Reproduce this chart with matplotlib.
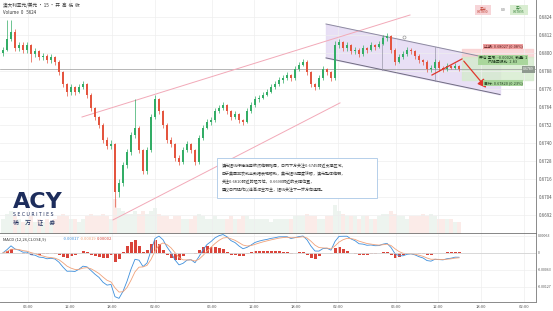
import numpy as np
import pandas as pd
import matplotlib
matplotlib.use("Agg")
import matplotlib.pyplot as plt
from matplotlib.patches import Rectangle

plt.rcParams['font.family'] = ['Noto Sans CJK SC', 'DejaVu Sans']

# -----------------------------
# Data (prices in pips above base)
# -----------------------------
base = 0.6690
first_open = 110

closes = [112, 119, 124, 113, 115, 112, 115, 109, 111, 107,
          108, 105, 107, 104, 97, 89, 84, 87, 84, 87,
          89, 82, 73, 67, 62, 52, 48, 49, 17, 23,
          35, 44, 55, 60, 45, 31, 45, 67, 79, 71,
          62, 52, 49, 40, 37, 45, 49, 45, 37, 53,
          60, 64, 65, 71, 73, 75, 71, 67, 69, 65,
          64, 71, 75, 79, 80, 82, 84, 87, 89, 92,
          93, 95, 93, 99, 102, 104, 97, 89, 87, 93,
          99, 97, 93, 115, 117, 113, 115, 111, 112, 109,
          113, 112, 115, 114, 116, 120, 121, 112, 104, 107,
          109, 112, 111, 108, 105, 104, 99, 100, 104, 100,
          99, 101, 100, 101, 99]

highs = [114, 132, 132, 126, 117, 117, 117, 116, 113, 112,
         110, 109, 109, 108, 105, 98, 90, 89, 88, 89,
         91, 90, 83, 74, 68, 63, 54, 52, 50, 26,
         37, 46, 57, 79, 61, 46, 47, 69, 82, 80,
         72, 63, 54, 50, 42, 47, 51, 50, 46, 55,
         62, 66, 67, 73, 75, 77, 76, 72, 71, 70,
         66, 73, 77, 81, 82, 84, 86, 89, 91, 94,
         95, 97, 96, 101, 104, 106, 105, 98, 90, 95,
         101, 100, 98, 118, 119, 118, 117, 116, 114, 113,
         115, 114, 117, 116, 118, 122, 123, 122, 113, 109,
         111, 114, 113, 112, 109, 106, 105, 102, 106, 105,
         101, 103, 102, 103, 102]

lows = [108, 111, 118, 111, 111, 110, 110, 104, 107, 105,
        105, 103, 103, 102, 95, 87, 81, 82, 82, 83,
        86, 80, 71, 65, 60, 50, 46, 46, 7, 14,
        21, 33, 42, 53, 43, 29, 29, 44, 66, 69,
        60, 50, 47, 38, 35, 36, 44, 43, 35, 36,
        52, 59, 62, 64, 70, 72, 69, 65, 66, 63,
        62, 63, 70, 74, 77, 79, 81, 83, 86, 88,
        90, 92, 91, 92, 98, 101, 95, 87, 85, 86,
        92, 95, 91, 92, 113, 111, 111, 109, 109, 107,
        108, 110, 111, 112, 113, 115, 118, 110, 102, 103,
        106, 108, 109, 106, 103, 102, 97, 97, 99, 98,
        97, 98, 99, 99, 98]

volumes = [5, 7, 8, 6, 5, 4, 5, 6, 4, 5,
           4, 5, 4, 5, 6, 7, 6, 5, 5, 4,
           5, 6, 7, 6, 6, 7, 6, 5, 12, 9,
           8, 7, 7, 8, 7, 8, 7, 8, 9, 7,
           6, 6, 5, 6, 6, 5, 5, 5, 6, 7,
           6, 5, 5, 6, 5, 5, 5, 6, 5, 5,
           6, 6, 5, 5, 5, 5, 5, 4, 5, 5,
           5, 5, 5, 6, 6, 6, 7, 6, 6, 5,
           5, 6, 6, 10, 8, 7, 6, 6, 6, 5,
           6, 6, 5, 5, 6, 7, 7, 8, 7, 6,
           6, 5, 6, 6, 6, 7, 6, 7, 6, 5,
           5, 5, 5, 4, 4]

price_ticks = [134, 122, 110, 98, 86, 74, 62, 50, 38, 26, 14, 2]
xtick_pos = [6.25, 16.75, 27.25, 38, 52.25, 62.75, 73.25, 83.75, 98.25, 108.75, 119.5, 130.25]
xtick_labels = ["06:00", "12:00", "18:00", "02:00"] * 3

# drawings (x in bars, y in pips)
pink_upper_x, pink_upper_y = [19.75, 101.75], [67.3, 135.3]
pink_lower_x, pink_lower_y = [27.5, 84.25], [-1.3, 76.7]
channel_x = [80.75, 124.25]
channel_top = [129.3, 105.0]
channel_bot = [106.7, 82.3]
channel_marks = [94.75, 108.0]
handle_x, handle_y = 100.25, 120.7
arrow_x = [107.25, 114.75, 121.25]
arrow_y = [95.3, 106.0, 85.3]
stop_lvl, entry_lvl, target_lvl = 112.7, 107.3, 92.0
tool_x = [114.75, 132.5]

note_lines = [
    "澳元短线行情走势依然偏弱格局，日内下方关注0.6745附近支撑区域，",
    "由于美国非农就业数据表现强劲，美元短线再度转强，澳元整体偏弱，",
    "关注0.6810附近的阻力位，0.6690附近的支撑位置，",
    "建议日内操作以逢高沽空为主，短线关注下一步方向选择。",
]


def to_p(v):
    return base + np.asarray(v, dtype=float) / 10000


df = pd.DataFrame({"close": to_p(closes), "high": to_p(highs), "low": to_p(lows)})
df["open"] = df["close"].shift(1)
df.loc[0, "open"] = to_p(first_open)
df["up"] = df["close"] >= df["open"]
idx = np.arange(len(df))

# MACD (bars here are coarser than the source, spans scaled to match)
ema_fast = df["close"].ewm(span=5, adjust=False).mean()
ema_slow = df["close"].ewm(span=11, adjust=False).mean()
macd = ema_fast - ema_slow
signal = macd.ewm(span=4, adjust=False).mean()
hist = macd - signal

# -----------------------------
# Layout
# -----------------------------
W, H = 553, 311
fig = plt.figure(figsize=(W / 100, H / 100), dpi=100, facecolor="white")
ax = fig.add_axes([0, 1 - 234 / H, 536 / W, 234 / H])
axm = fig.add_axes([0, 1 - 302 / H, 536 / W, 68 / H])
axv = fig.add_axes(ax.get_position(), sharex=ax)
axv.set_zorder(ax.get_zorder() - 1)
ax.patch.set_alpha(0)

xlim = (-0.75, 133.25)
ylim = (to_p(-10.7), to_p(145.3))

# -----------------------------
# Volume
# -----------------------------
vol_colors = np.where(df["up"], "#dfece2", "#f8dcd6")
axv.bar(idx, volumes, width=0.8, color=vol_colors, alpha=0.55)
axv.set_ylim(0, 80)
axv.axis("off")

# -----------------------------
# Candles
# -----------------------------
up_c, dn_c = "#33ad66", "#e4553f"
colors = np.where(df["up"], up_c, dn_c)
ax.vlines(idx, df["low"], df["high"], color=colors, lw=0.5, zorder=3)
body_lo = np.minimum(df["open"], df["close"])
body_h = np.maximum((df["close"] - df["open"]).abs(), 0.00003)
ax.bar(idx, body_h, bottom=body_lo, width=0.6, color=colors, zorder=4)

# last price line
ax.axhline(df["close"].iloc[-1], color="#9a9a9a", lw=0.5, zorder=2)

# trend lines
ax.plot(pink_upper_x, to_p(pink_upper_y), color="#f2a9b8", lw=0.7, zorder=2)
ax.plot(pink_lower_x, to_p(pink_lower_y), color="#f2a9b8", lw=0.7, zorder=2)

# channel
ax.fill_between(channel_x, to_p(channel_bot), to_p(channel_top), color="#e4daf4", alpha=0.85, zorder=1)
ax.plot(channel_x, to_p(channel_top), color="#8d8aa0", lw=0.7, zorder=2)
ax.plot(channel_x, to_p(channel_bot), color="#6f6c80", lw=0.7, zorder=2)
for mx in channel_marks:
    ax.plot([mx, mx], [to_p(np.interp(mx, channel_x, channel_bot)),
                       to_p(np.interp(mx, channel_x, channel_top))],
            color="#9a98aa", lw=0.5, zorder=2)
ax.plot(handle_x, to_p(handle_y), "o", ms=2.2, mfc="white", mec="#999999", mew=0.5, zorder=6)

# position tool
ax.fill_between(tool_x, to_p(entry_lvl), to_p(stop_lvl), color="#f9cfd0", alpha=0.8, zorder=1)
ax.fill_between(tool_x, to_p(target_lvl), to_p(entry_lvl), color="#d5ebcd", alpha=0.8, zorder=1)
mid_x = 125.0
fs_tool = 2.8
ax.text(mid_x, to_p(stop_lvl + 1.6), f"止损: {to_p(stop_lvl):.5f} (0.08%)", fontsize=fs_tool,
        ha="center", va="center", color="#5a1a1a", zorder=7,
        bbox=dict(boxstyle="square,pad=0.25", fc="#ef9f9f", ec="none"))
ax.text(mid_x, to_p(entry_lvl - 2.0), f"开仓 盈亏: -0.00026, 数量: 1\n风险回报比: 2.83", fontsize=fs_tool,
        ha="center", va="center", color="#1f3a1f", zorder=7, linespacing=1.0,
        bbox=dict(boxstyle="square,pad=0.25", fc="#a9d69c", ec="none"))
ax.text(mid_x, to_p(target_lvl - 2.0), f"目标: {to_p(target_lvl):.5f} (0.23%)", fontsize=fs_tool,
        ha="center", va="center", color="#1f3a1f", zorder=7,
        bbox=dict(boxstyle="square,pad=0.25", fc="#a9d69c", ec="none"))
ax.text(131.3, df["close"].iloc[-1], f"{df['close'].iloc[-1]:.4f}", fontsize=2.6,
        ha="center", va="center", color="white", zorder=7,
        bbox=dict(boxstyle="square,pad=0.3", fc="#8f9a8f", ec="none"))

# arrow
ax.plot(arrow_x[:2], to_p(arrow_y[:2]), color="#e0362c", lw=0.9, zorder=6)
ax.annotate("", xy=(arrow_x[2], to_p(arrow_y[2])), xytext=(arrow_x[1], to_p(arrow_y[1])),
            arrowprops=dict(arrowstyle="-|>,head_length=0.5,head_width=0.25", color="#e0362c", lw=0.9),
            zorder=6)

# commentary box
ax.add_patch(Rectangle((217 / 536, 1 - 198 / 234), 160 / 536, 40 / 234, transform=ax.transAxes,
                       fc="white", ec="#a9c8e6", lw=0.6, zorder=8))
for k, line in enumerate(note_lines):
    ax.text(222 / 536, 1 - (166 + 8 * k) / 234, line, transform=ax.transAxes,
            fontsize=2.9, color="#333333", va="center", ha="left", zorder=9)

ax.set_xlim(*xlim)
ax.set_ylim(*ylim)
ax.set_yticks(to_p(price_ticks))
ax.set_yticklabels([f"{v:.4f}" for v in to_p(price_ticks)])
ax.set_xticks(xtick_pos)
ax.tick_params(axis="x", labelbottom=False, length=0)
ax.yaxis.tick_right()
ax.tick_params(axis="y", length=0, pad=2, labelsize=3.2, labelcolor="#555555")
ax.grid(True, color="#eeeeee", lw=0.5)

# -----------------------------
# MACD panel
# -----------------------------
axm.bar(idx, hist, width=0.75, color="#d9443a")
axm.plot(idx, macd, color="#3d8fdc", lw=0.6)
axm.plot(idx, signal, color="#f0a27a", lw=0.6)
lo = min(macd.min(), signal.min(), hist.min()) * 1.08
step = -lo * 17 / 49
axm.set_ylim(lo, step * 1.1)
axm.axhline(0, color="#cfcfcf", lw=0.5)
axm.set_xlim(*xlim)
mt = [step, 0, -step, -2 * step]
axm.set_yticks(mt)
axm.set_yticklabels([f"{v:.5f}" if v != 0 else "0" for v in mt])
axm.yaxis.tick_right()
axm.tick_params(axis="y", length=0, pad=1, labelsize=2.5, labelcolor="#555555")
axm.set_xticks(xtick_pos)
axm.set_xticklabels(xtick_labels)
axm.tick_params(axis="x", length=0, pad=2, labelsize=3.0, labelcolor="#555555")
axm.grid(True, color="#eeeeee", lw=0.5)

# -----------------------------
# Uniform style
# -----------------------------
for a in [ax, axm]:
    a.spines["top"].set_visible(False)
    a.spines["left"].set_visible(False)
    a.spines["right"].set_color("#8a8a8a")
    a.spines["right"].set_linewidth(0.7)
ax.spines["bottom"].set_color("#666666")
ax.spines["bottom"].set_linewidth(1.1)
axm.spines["bottom"].set_color("#8a8a8a")
axm.spines["bottom"].set_linewidth(0.7)


# -----------------------------
# Header / logo texts (pixel positions)
# -----------------------------
def ftext(px, py, s, **kw):
    fig.text(px / W, 1 - py / H, s, **kw)


ftext(3, 5, "澳大利亚元/美元 · 15 · 开  高  低  收", fontsize=3.3, color="#333333", va="center")
ftext(3, 13, "Volume  0   5624", fontsize=3.2, color="#333333", va="center")

fig.add_artist(Rectangle((475 / W, 1 - 15 / H), 16 / W, 10 / H, transform=fig.transFigure,
                         fc="#f7d5d8", ec="none"))
fig.add_artist(Rectangle((510 / W, 1 - 15 / H), 18 / W, 10 / H, transform=fig.transFigure,
                         fc="#d9edd1", ec="none"))
ftext(483, 10, f"卖出\n{to_p(closes[-1]):.5f}", fontsize=2.4, color="#c0392b", ha="center",
      va="center", linespacing=1.0)
ftext(503, 10, "0.0", fontsize=2.6, color="#666666", ha="center", va="center")
ftext(519, 10, f"买入\n{to_p(closes[-1]) + 0.00005:.5f}", fontsize=2.4, color="#2e7d32", ha="center",
      va="center", linespacing=1.0)

ftext(13, 208, "ACY", fontsize=16, fontweight="heavy", color="#1d2d5c", va="baseline",
      family="DejaVu Sans")
ftext(13, 214, "S E C U R I T I E S", fontsize=3.3, color="#1d2d5c", va="center",
      family="DejaVu Sans")
ftext(13, 222, "稀     万     证     券", fontsize=4.2, color="#1d2d5c", va="center")

ftext(3, 239, "MACD (12,26,CLOSE,9)", fontsize=3.0, color="#333333", va="center")
ftext(63, 239, f"{macd.iloc[-1]:.5f}", fontsize=3.0, color="#3d8fdc", va="center")
ftext(80, 239, f"{signal.iloc[-1]:.5f}", fontsize=3.0, color="#f0a27a", va="center")
ftext(97, 239, f"{hist.iloc[-1]:.5f}", fontsize=3.0, color="#d9443a", va="center")

plt.savefig("out.png", dpi=100)
